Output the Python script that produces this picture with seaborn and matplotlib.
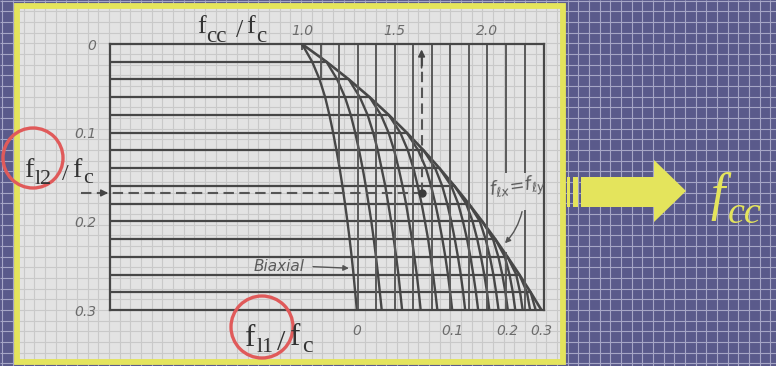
import numpy as np
import pandas as pd
import matplotlib
matplotlib.use("Agg")
import matplotlib.pyplot as plt
import seaborn as sns
from matplotlib.patches import Rectangle, Polygon, Circle

sns.set_theme(style="white")
plt.rcParams["font.family"] = ["DejaVu Sans"]
plt.rcParams["mathtext.fontset"] = "dejavusans"

# ---------------------------------------------------------------- data
# lateral confining stress ratio on the vertical scale (horizontal rules)
fl_grid = [0.00, 0.02, 0.04, 0.06, 0.08, 0.10, 0.12, 0.14,
           0.16, 0.18, 0.20, 0.22, 0.24, 0.26, 0.28, 0.30]

# equal confinement envelope (f_lx = f_ly): fcc/fc at each rule
fcc_envelope = [1.000, 1.132, 1.253, 1.365, 1.468, 1.565, 1.656, 1.741,
                1.822, 1.899, 1.972, 2.042, 2.108, 2.172, 2.233, 2.291]

# fcc/fc along each constant f_l1/fc curve, starting on the envelope
fcc_l1_00 = [1.000, 1.055, 1.095, 1.125, 1.148, 1.168, 1.186, 1.203,
             1.218, 1.232, 1.245, 1.257, 1.268, 1.278, 1.287, 1.296]
fcc_l1_02 = [1.132, 1.190, 1.232, 1.263, 1.287, 1.308, 1.327, 1.344,
             1.359, 1.374, 1.387, 1.399, 1.410, 1.420, 1.430]
fcc_l1_04 = [1.253, 1.312, 1.354, 1.384, 1.409, 1.429, 1.449, 1.465,
             1.481, 1.495, 1.508, 1.520, 1.530, 1.540]
fcc_l1_06 = [1.365, 1.426, 1.467, 1.497, 1.521, 1.542, 1.561, 1.577,
             1.593, 1.606, 1.619, 1.630, 1.640]
fcc_l1_08 = [1.468, 1.530, 1.571, 1.601, 1.624, 1.645, 1.663, 1.680,
             1.694, 1.707, 1.719, 1.730]
fcc_l1_10 = [1.565, 1.627, 1.668, 1.696, 1.719, 1.739, 1.757, 1.773,
             1.787, 1.799, 1.810]
fcc_l1_12 = [1.656, 1.718, 1.756, 1.783, 1.805, 1.824, 1.841, 1.856,
             1.869, 1.880]
fcc_l1_14 = [1.741, 1.805, 1.842, 1.868, 1.890, 1.908, 1.924, 1.938, 1.950]
fcc_l1_16 = [1.822, 1.885, 1.920, 1.945, 1.965, 1.983, 1.998, 2.010]
fcc_l1_18 = [1.899, 1.959, 1.990, 2.013, 2.032, 2.047, 2.060]
fcc_l1_20 = [1.972, 2.030, 2.059, 2.080, 2.097, 2.110]
fcc_l1_22 = [2.042, 2.094, 2.119, 2.137, 2.150]
fcc_l1_24 = [2.108, 2.155, 2.176, 2.190]
fcc_l1_26 = [2.172, 2.213, 2.230]
fcc_l1_28 = [2.233, 2.260]

l1_curves = [fcc_l1_00, fcc_l1_02, fcc_l1_04, fcc_l1_06, fcc_l1_08,
             fcc_l1_10, fcc_l1_12, fcc_l1_14, fcc_l1_16, fcc_l1_18,
             fcc_l1_20, fcc_l1_22, fcc_l1_24, fcc_l1_26, fcc_l1_28]

# vertical fcc/fc rules: position, top end, bottom end (in fl units)
vrule_fcc  = [1.1, 1.2, 1.3, 1.4, 1.5, 1.6, 1.7, 1.8, 1.9, 2.0, 2.1, 2.1, 2.2, 2.2]
vrule_from = [0.0, 0.0, 0.0, 0.0, 0.0, 0.0, 0.0, 0.0, 0.0, 0.0, 0.0, 0.235, 0.0, 0.187]
vrule_to   = [0.040, 0.136, 0.3, 0.3, 0.3, 0.3, 0.3, 0.3, 0.3, 0.3, 0.145, 0.3, 0.145, 0.3]

# axis labels
top_ticks = [1.0, 1.5, 2.0]
top_labels = ["1.0", "1.5", "2.0"]
left_ticks = [0.0, 0.1, 0.2, 0.3]
left_labels = ["0", "0.1", "0.2", "0.3"]
bottom_labels = ["0", "0.1", "0.2", "0.3"]
bottom_ticks = [fcc_l1_00[-1], fcc_l1_10[-1], fcc_l1_20[-1], fcc_envelope[-1]]

# worked example
example_fl2 = 0.168
example_fcc = 1.645

# ---------------------------------------------------------------- style
W, H = 776, 366
PURPLE = "#5a5a8b"
YELLOW = "#e4e45c"
PANEL = "#e3e3e3"
INK = "#474747"
TICK_TXT = "#6c6c6c"
RED = "#e05a5a"

fig = plt.figure(figsize=(W / 100, H / 100), dpi=100)

# slide background with its squared grid
bg = fig.add_axes([0, 0, 1, 1], zorder=0)
bg.set_xlim(0, W)
bg.set_ylim(H, 0)
bg.axis("off")
bg.add_patch(Rectangle((0, 0), W, H, color=PURPLE, zorder=0))
step = 10.67
gx = np.arange(2.2, W, step)
gy = np.arange(0.6, H, step)
bg.vlines(gx, 0, H, color="#a6a6c6", lw=0.8, zorder=1)
bg.hlines(gy, 0, W, color="#a6a6c6", lw=0.8, zorder=1)

x0, y0, x1, y1 = 17, 6, 563, 362
bg.add_patch(Rectangle((x0, y0), x1 - x0, y1 - y0, facecolor=PANEL,
                       edgecolor="none", zorder=2))
bg.vlines(gx[(gx > x0) & (gx < x1)], y0, y1, color="#c9c9c9", lw=0.8, zorder=3)
bg.hlines(gy[(gy > y0) & (gy < y1)], x0, x1, color="#c9c9c9", lw=0.8, zorder=3)
bg.add_patch(Rectangle((x0, y0), x1 - x0, y1 - y0, fill=False,
                       edgecolor=YELLOW, lw=4.2, zorder=4))

# ---------------------------------------------------------------- chart
ax = fig.add_axes([110 / W, 1 - 310 / H, 434 / W, 266 / H], zorder=1)
ax.patch.set_alpha(0)
ax.set_xlim(-0.035, 2.305)
ax.set_ylim(0.3, 0.0)

rows = []
for k, vals in enumerate(l1_curves):
    for fl, fcc in zip(fl_grid[-len(vals):], vals):
        rows.append({"curve": k, "fl": fl, "fcc": fcc})
curves_df = pd.DataFrame(rows)
env_df = pd.DataFrame({"fl": fl_grid, "fcc": fcc_envelope})

sns.lineplot(data=curves_df, x="fcc", y="fl", units="curve", estimator=None,
             sort=False, color=INK, lw=1.7, ax=ax, legend=False)
sns.lineplot(data=env_df, x="fcc", y="fl", estimator=None, sort=False,
             color=INK, lw=1.9, ax=ax, legend=False)

ax.hlines(fl_grid[1:-1], -0.035, fcc_envelope[1:-1], color=INK, lw=1.6)
ax.vlines(vrule_fcc, vrule_from, vrule_to, color="#5a5a5a", lw=1.4)

for sp in ax.spines.values():
    sp.set_visible(True)
    sp.set_color(INK)
    sp.set_linewidth(1.6)
ax.set_xlabel("")
ax.set_ylabel("")

ax.set_yticks(left_ticks, labels=left_labels)
ax.set_xticks(bottom_ticks, labels=bottom_labels)
ax.tick_params(axis="both", direction="out", length=4, width=1.2, color=INK,
               labelcolor=TICK_TXT, labelsize=10, pad=6)
sec = ax.secondary_xaxis("top")
sec.set_xticks(top_ticks, labels=top_labels)
sec.tick_params(direction="in", length=4, width=1.2, color=INK,
                labelcolor=TICK_TXT, labelsize=10, pad=4)
sec.spines["top"].set_visible(False)
for lab in ax.get_xticklabels() + ax.get_yticklabels() + sec.get_xticklabels():
    lab.set_style("italic")

# worked example: dashed path with arrows
ax.plot([-0.19, example_fcc], [example_fl2, example_fl2], color="#555555",
        lw=1.5, ls=(0, (5, 2.6)), clip_on=False)
ax.plot([example_fcc, example_fcc], [example_fl2, 0.012], color="#555555",
        lw=1.5, ls=(0, (5, 2.6)), clip_on=False)
ax.plot(example_fcc, example_fl2, "o", color="#3a3a3a", ms=5, clip_on=False)
ax.annotate("", xy=(-0.03, example_fl2), xytext=(-0.09, example_fl2),
            arrowprops=dict(arrowstyle="-|>", color="#444444", lw=1.2,
                            mutation_scale=10), annotation_clip=False)
ax.annotate("", xy=(example_fcc, 0.003), xytext=(example_fcc, 0.03),
            arrowprops=dict(arrowstyle="-|>", color="#444444", lw=1.2,
                            mutation_scale=10), annotation_clip=False)

ax.text(1.016, 0.251, "Biaxial", ha="right", va="center", style="italic",
        color="#5a5a5a", fontsize=11)
ax.annotate("", xy=(1.268, 0.253), xytext=(1.045, 0.251),
            arrowprops=dict(arrowstyle="-|>", color="#555555", lw=1.0,
                            mutation_scale=8))
ax.text(2.16, 0.163, r"$f_{\ell x}\!=\!f_{\ell y}$", ha="center", va="center",
        color="#5a5a5a", fontsize=13, rotation=8)
ax.annotate("", xy=(2.084, 0.227), xytext=(2.19, 0.186),
            arrowprops=dict(arrowstyle="-|>", color="#555555", lw=1.0,
                            mutation_scale=8, connectionstyle="arc3,rad=-0.15"))

# ---------------------------------------------------------------- overlay
top = fig.add_axes([0, 0, 1, 1], zorder=3)
top.set_xlim(0, W)
top.set_ylim(H, 0)
top.axis("off")
top.patch.set_alpha(0)

SERIF = ["Liberation Serif", "DejaVu Serif"]
PX = 0.72


def piece(x, y, s, px, color="#333333", style="normal"):
    top.text(x, y, s, fontsize=px * PX, family=SERIF, color=color,
             style=style, ha="left", va="baseline")


# f_cc / f_c
piece(197, 33, "f", 26)
piece(206, 42, "cc", 23)
piece(236, 37, "/", 26)
piece(246, 33, "f", 26)
piece(256, 42, "c", 23)
# f_l2 / f_c
piece(24, 177, "f", 28)
piece(35, 184, "l2", 22)
piece(62, 180, "/", 24)
piece(72, 177, "f", 28)
piece(83, 183, "c", 22)
# f_l1 / f_c
piece(245, 346, "f", 31)
piece(257, 352, "l1", 22)
piece(277, 350, "/", 30)
piece(290, 345, "f", 31)
piece(302, 352, "c", 24)

top.add_patch(Circle((33, 158), 30, fill=False, edgecolor=RED, lw=2.4))
top.add_patch(Circle((262, 327), 31, fill=False, edgecolor=RED, lw=2.4))

# block arrow towards f_cc
top.add_patch(Rectangle((567, 177), 3, 30, color=YELLOW, lw=0))
top.add_patch(Rectangle((573, 177), 5, 30, color=YELLOW, lw=0))
top.add_patch(Polygon([(581, 177), (654, 177), (654, 160), (686, 191),
                       (654, 222), (654, 207), (581, 207)],
                      closed=True, color=YELLOW, lw=0))
piece(710, 210, "f", 52, color=YELLOW, style="italic")
piece(728, 223, "cc", 38, color=YELLOW, style="italic")

fig.savefig("out.png", dpi=100)
